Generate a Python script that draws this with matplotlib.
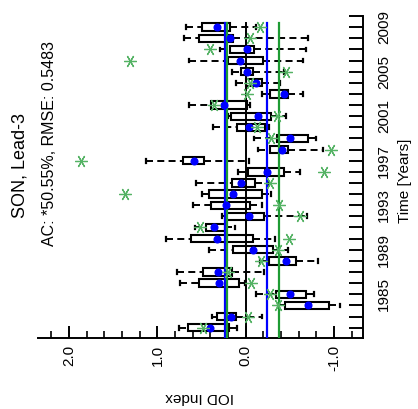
import matplotlib
matplotlib.use("Agg")
import matplotlib.pyplot as plt
from matplotlib.patches import Rectangle
from matplotlib.ticker import MultipleLocator

plt.rcParams['font.family'] = ['Liberation Sans', 'DejaVu Sans']

# Ensemble spread per year (IOD index)
years = list(range(1982, 2010))
whisk_hi = [0.75, 0.38, -0.37, -0.12, 0.74, 0.78, -0.16, 0.42, 0.90, 0.57,
            0.27, 0.60, 0.49, 0.56, 0.09, 1.13, -0.14, -0.09, 0.37, 0.20,
            0.64, -0.19, 0.11, 0.16, 0.64, 0.29, 0.70, 0.68]
box_hi = [0.65, 0.33, -0.44, -0.34, 0.53, 0.48, -0.26, 0.14, 0.62, 0.45,
          0.23, 0.39, 0.42, 0.15, -0.03, 0.71, -0.28, -0.35, 0.10, 0.17,
          0.39, -0.28, 0.00, 0.05, 0.20, 0.18, 0.53, 0.50]
medians = [0.42, 0.16, -0.68, -0.50, 0.30, 0.30, -0.45, -0.07, 0.30, 0.35,
           -0.03, 0.20, 0.12, 0.07, -0.22, 0.58, -0.40, -0.49, -0.05, -0.12,
           0.24, -0.42, -0.10, -0.01, 0.05, 0.00, 0.20, 0.32]
box_lo = [0.19, 0.11, -0.94, -0.68, 0.08, 0.16, -0.57, -0.31, -0.08, 0.24,
          -0.21, -0.05, -0.18, -0.11, -0.43, 0.47, -0.48, -0.70, -0.22, -0.29,
          -0.01, -0.48, -0.19, -0.08, -0.20, -0.09, 0.14, 0.18]
whisk_lo = [0.10, -0.19, -1.07, -0.77, 0.01, -0.21, -0.82, -0.48, -0.33, 0.12,
            -0.69, -0.19, -0.29, -0.25, -0.62, -0.04, -0.88, -0.80, -0.26, -0.46,
            -0.05, -0.65, -0.39, -0.43, -0.65, -0.68, -0.71, -0.12]
ens_mean = [0.40, 0.17, -0.70, -0.50, 0.30, 0.31, -0.46, -0.08, 0.32, 0.36,
            -0.04, 0.22, 0.14, 0.05, -0.24, 0.58, -0.41, -0.50, -0.04, -0.14,
            0.25, -0.43, -0.12, -0.01, 0.06, -0.01, 0.18, 0.33]
observed = [0.48, -0.03, -0.37, -0.27, -0.06, 0.20, -0.17, -0.36, -0.49, 0.52,
            -0.62, -0.38, 1.37, -0.28, -0.89, 1.87, -0.97, -0.29, -0.13, -0.35,
            0.36, -0.02, -0.05, -0.46, 1.31, 0.40, -0.05, -0.16]

blue_lines = [0.24, -0.24]
green_lines = [0.215, -0.377]

fig = plt.figure(figsize=(4.18, 4.09), dpi=100)
ax = fig.add_axes([38 / 418, 1 - 337.7 / 409, 325 / 418, 321.7 / 409])

green = '#1e9b34'
star_green = '#55b365'
hw = 0.33
dash = (0, (3.6, 2.2))

for i, yr in enumerate(years):
    # whiskers (dashed) with caps
    ax.plot([whisk_hi[i], box_hi[i]], [yr, yr], color='k', lw=1.4,
            linestyle=dash, zorder=2)
    ax.plot([box_lo[i], whisk_lo[i]], [yr, yr], color='k', lw=1.4,
            linestyle=dash, zorder=2)
    for v in (whisk_hi[i], whisk_lo[i]):
        ax.plot([v, v], [yr - 0.17, yr + 0.17], color='k', lw=1.6, zorder=2)
    ax.add_patch(Rectangle((box_lo[i], yr - hw), box_hi[i] - box_lo[i], 2 * hw,
                           fill=False, edgecolor='k', lw=1.5, zorder=3))
    ax.plot([medians[i], medians[i]], [yr - hw, yr + hw], color='k', lw=1.3, zorder=3)

for v in blue_lines:
    ax.plot([v, v], [1981, 2009.4], color='#0000ff', lw=1.6, zorder=4)
for v in green_lines:
    ax.plot([v, v], [1981, 2009.4], color=green, lw=1.6, zorder=4)
ax.plot([0, 0], [1981, 2009.4], color='k', lw=1.4, zorder=4)

ax.plot(ens_mean, years, 'o', color='#0000ff', ms=4.8, zorder=5)
ax.plot(observed, years, linestyle='none', marker=(6, 2, 90), color=star_green,
        ms=9, mew=0.9, zorder=6)

ax.set_xlim(2.352, -1.328)
ax.set_ylim(1981.1, 2010)

for s in ('top', 'left'):
    ax.spines[s].set_visible(False)
for s in ('bottom', 'right'):
    ax.spines[s].set_linewidth(1.4)

ax.set_xticks([2, 1, 0, -1])
ax.set_xticklabels(['2.0', '1.0', '0.0', '-1.0'], rotation=90, fontsize=11)
ax.xaxis.set_minor_locator(MultipleLocator(0.2))
ax.tick_params(axis='x', which='major', direction='in', length=9, width=1.4, pad=5)
ax.tick_params(axis='x', which='minor', direction='in', length=5, width=1.2)

ax.yaxis.tick_right()
ax.set_yticks(range(1982, 2011))
ax.set_yticklabels([str(y) if (y - 1985) % 4 == 0 else '' for y in range(1982, 2011)],
                   rotation=90, va='center', fontsize=11)
ax.tick_params(axis='y', direction='in', length=10, width=1.4, pad=10)

fig.text(200 / 418, 1 - 397 / 409, 'IOD Index', rotation=180, ha='center', va='center',
         fontsize=11)
fig.text(405 / 418, 1 - 181 / 409, 'Time [Years]', rotation=90, ha='center', va='center',
         fontsize=11)
fig.text(20 / 418, 1 - 165 / 409, 'SON, Lead-3', rotation=90, ha='center', va='center',
         fontsize=13)
fig.text(50 / 418, 1 - 143 / 409, 'AC: *50.55%, RMSE: 0.5483', rotation=90, ha='center',
         va='center', fontsize=11.5)

fig.savefig('out.png', dpi=100)
